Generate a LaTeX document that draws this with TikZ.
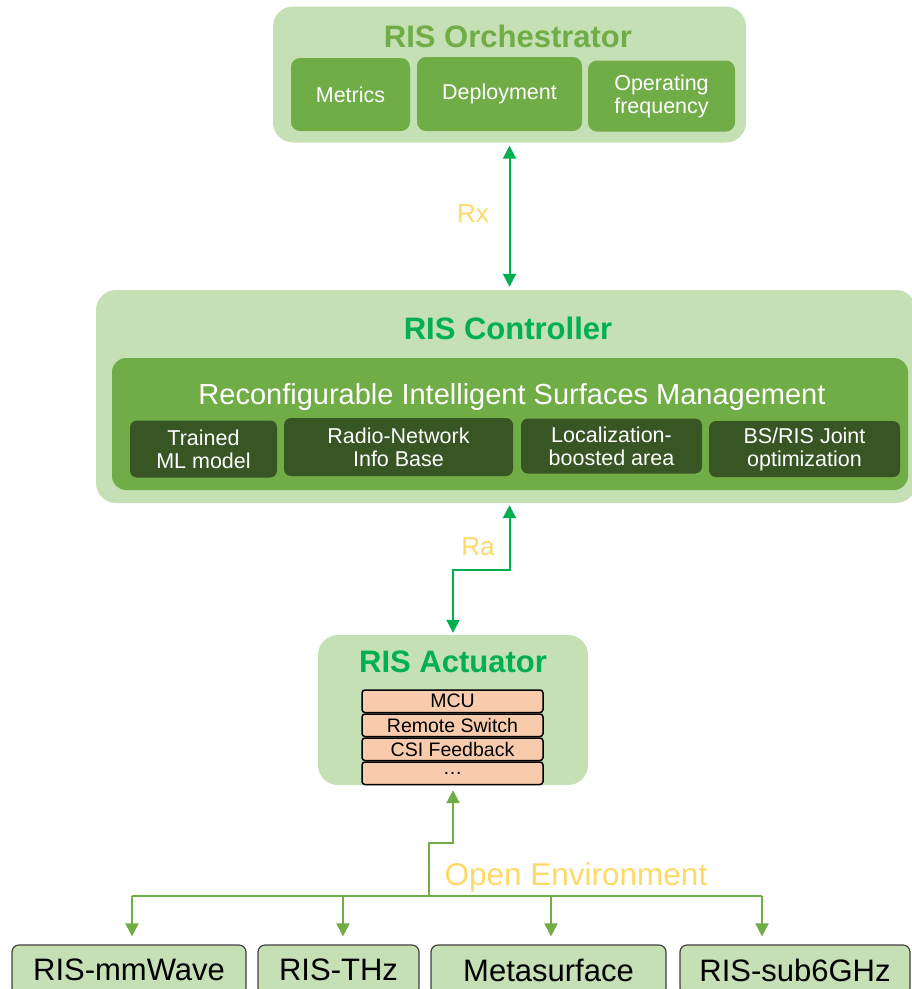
\documentclass[tikz,border=0pt]{standalone}
\usepackage{fontspec}
\setmainfont{Liberation Sans}
\usetikzlibrary{arrows.meta,positioning}
\definecolor{lgreen}{HTML}{C5E0B4}
\definecolor{mgreen}{HTML}{70AD47}
\definecolor{dgreen}{HTML}{375623}
\definecolor{bgreen}{HTML}{00B050}
\definecolor{gold}{HTML}{FFD966}
\definecolor{salmon}{HTML}{F8CBAD}
\newcommand{\fsz}[2]{\fontsize{#1}{#2}\selectfont}

\begin{document}
\begin{tikzpicture}[x=1pt,y=-1pt,>={Triangle[width=13pt,length=13pt]},
  panel/.style={fill=lgreen,rounded corners=20pt,inner sep=0pt},
  ttl/.style={font=\fsz{31}{35}\bfseries,inner sep=0pt},
  mbox/.style={fill=mgreen,rounded corners=9pt,inner sep=0pt,text=white,align=center,font=\fsz{21.5}{23}},
  dbox/.style={fill=dgreen,rounded corners=7pt,inner sep=0pt,text=white,align=center,font=\fsz{21.5}{23}},
  layer/.style={fill=salmon,draw=black,line width=1.5pt,rounded corners=3pt,inner sep=0pt,
    minimum width=181,minimum height=22.5,font=\fsz{19.5}{21}},
  ebox/.style={fill=lgreen,draw=black!75,line width=1.2pt,rounded corners=7pt,inner sep=0pt,
    minimum height=50,font=\fsz{31}{34}},
  lbl/.style={text=gold,font=\fsz{26}{30},inner sep=0pt},
  link/.style={bgreen,line width=2pt},
  envlink/.style={mgreen,line width=2pt}]
\useasboundingbox (0,0) rectangle (912,989);

\node[panel,minimum width=473,minimum height=136] (orch) at (509.5,74.5) {};
\node[ttl,text=mgreen] (orchttl) at (508,36) {RIS Orchestrator};
\node[mbox,minimum width=119,minimum height=73] (metrics) at (350.5,94.5) {Metrics};
\node[mbox,minimum width=165,minimum height=74] (deploy) at (499.5,94) {Deployment};
\node[mbox,minimum width=147,minimum height=71] (opfreq) at (661.5,96) {Operating\\frequency};

\node[panel,minimum width=820,minimum height=213] (ctrl) at (506,396.5) {};
\node[ttl,text=bgreen] (ctrlttl) at (508,328) {RIS Controller};
\node[fill=mgreen,rounded corners=14pt,minimum width=796,minimum height=132] (rism) at (510,424) {};
\node[text=white,font=\fsz{29}{32},inner sep=0pt] (rismttl) at (512,397) {Reconfigurable Intelligent Surfaces Management};
\node[dbox,minimum width=147,minimum height=57] (mlmodel) at (203.5,449) {Trained\\ML model};
\node[dbox,minimum width=229,minimum height=58] (rnib) at (398.5,447) {Radio-Network\\Info Base};
\node[dbox,minimum width=181,minimum height=55] (locarea) at (611.5,446) {Localization-\\boosted area};
\node[dbox,minimum width=191,minimum height=56] (jointopt) at (804.5,449) {BS/RIS Joint\\optimization};

\node[panel,minimum width=270,minimum height=150] (act) at (453,710) {};
\node[ttl,text=bgreen] (actttl) at (453,662) {RIS Actuator};
\node[layer] (mcu) at (452.5,701.25) {MCU};
\node[layer,below=0pt of mcu] (rswitch) {Remote Switch};
\node[layer,below=0pt of rswitch] (csi) {CSI Feedback};
\node[layer,below=0pt of csi] (more) {\dots};

\node[ebox,minimum width=234] (mm) at (129,970) {RIS-mmWave};
\node[ebox,minimum width=161] (thz) at (338.5,970) {RIS-THz};
\node[ebox,minimum width=235] (meta) at (548.5,970) {Metasurface};
\node[ebox,minimum width=230] (sub6) at (795,970) {RIS-sub6GHz};

\draw[link,<->,shorten <=3pt,shorten >=3pt] (orch.south) -- (orch.south |- ctrl.north);
\node[lbl] (rx) at (473,214) {Rx};

\coordinate (rabend) at (453,570);
\draw[link,<->,shorten <=2pt,shorten >=2pt] (act.north) -- (rabend) -| (orch.south |- ctrl.south);
\node[lbl] (ra) at (478,547) {Ra};

\coordinate (oe) at (429,896);
\coordinate (oebend) at (429,843);
\draw[envlink,->,shorten >=5pt] (oe) -- (oebend) -| (act.south);
\draw[envlink,line width=2.8pt] (oe) -- ++(0,-41);
\foreach \n/\x in {mm/132,thz/343,meta/551,sub6/762} {
  \coordinate (b\n) at (\x,896);
  \draw[envlink,->,shorten >=8pt] (b\n) -- (b\n |- \n.north);
}
\draw[envlink] (bmm) -- (bsub6);
\node[lbl,font=\fsz{31.5}{35}] (openenv) at (576,877) {Open Environment};
\end{tikzpicture}
\end{document}
